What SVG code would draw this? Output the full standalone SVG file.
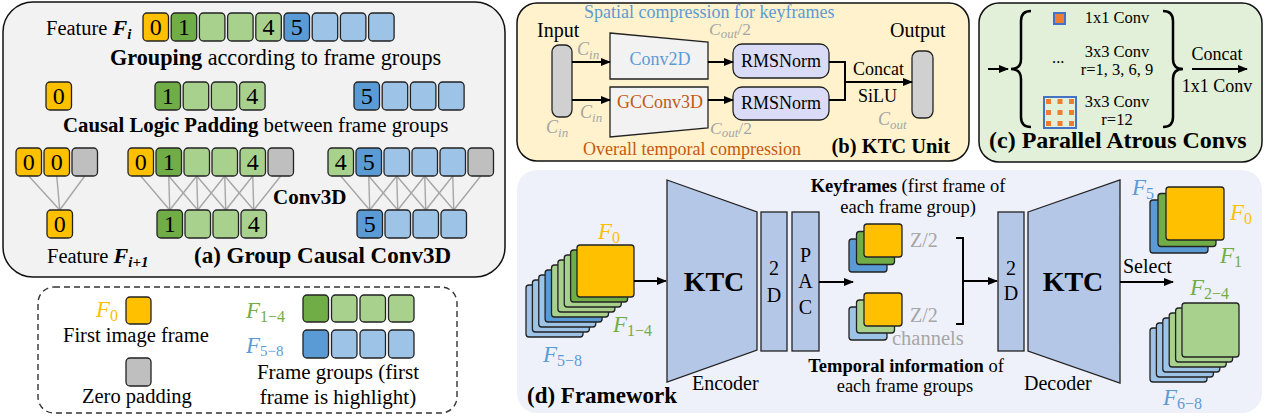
<svg xmlns="http://www.w3.org/2000/svg" width="1265" height="419" viewBox="0 0 1265 419">
<defs>
<marker id="ah" markerWidth="10" markerHeight="8" refX="9" refY="4" orient="auto" markerUnits="userSpaceOnUse"><path d="M0,0 L10,4 L0,8 z" fill="#000"/></marker>
<style>
text{font-family:"Liberation Serif","Times New Roman",serif;fill:#000}
.s{font-size:20.5px}
.m{font-size:18px}
.k{font-size:18.5px}
.bd{font-weight:bold}
.it{font-style:italic}
.y{fill:#FFC000}.dg{fill:#70AD47}.lg{fill:#A9D18E}.db{fill:#5B9BD5}.lb{fill:#9DC3E6}.gy{fill:#BFBFBF}
.gt{fill:#A6A6A6}.bt{fill:#5B9BD5}.ot{fill:#C55A11}
rect.c,.fr{stroke:#222;stroke-width:1.3}
.ln{stroke:#A6A6A6;stroke-width:1.4}
.ar{stroke:#000;stroke-width:2;fill:none;marker-end:url(#ah)}
.dig{font-size:24px;text-anchor:middle}
.mid{text-anchor:middle}
.pan{stroke:#111;stroke-width:1.5}
</style>
</defs>
<rect width="1265" height="419" fill="#fff"/>

<!-- Panel (a) -->
<g id="panel-a">
<rect class="pan" x="3" y="2" width="502" height="275" rx="30" fill="#F2F2F2"/>
<g id="a-connectors">
<line class="ln" x1="28.75" y1="176" x2="59.75" y2="210"/><line class="ln" x1="56.75" y1="176" x2="59.75" y2="210"/><line class="ln" x1="84.75" y1="176" x2="59.75" y2="210"/>
<line class="ln" x1="140.75" y1="176" x2="169.75" y2="210"/><line class="ln" x1="168.75" y1="176" x2="169.75" y2="210"/><line class="ln" x1="196.75" y1="176" x2="169.75" y2="210"/>
<line class="ln" x1="168.75" y1="176" x2="197.75" y2="210"/><line class="ln" x1="196.75" y1="176" x2="197.75" y2="210"/><line class="ln" x1="224.75" y1="176" x2="197.75" y2="210"/>
<line class="ln" x1="196.75" y1="176" x2="225.75" y2="210"/><line class="ln" x1="224.75" y1="176" x2="225.75" y2="210"/><line class="ln" x1="252.75" y1="176" x2="225.75" y2="210"/>
<line class="ln" x1="224.75" y1="176" x2="253.75" y2="210"/><line class="ln" x1="252.75" y1="176" x2="253.75" y2="210"/><line class="ln" x1="280.75" y1="176" x2="253.75" y2="210"/>
<line class="ln" x1="340.75" y1="176" x2="369.75" y2="210"/><line class="ln" x1="368.75" y1="176" x2="369.75" y2="210"/><line class="ln" x1="396.75" y1="176" x2="369.75" y2="210"/>
<line class="ln" x1="368.75" y1="176" x2="397.75" y2="210"/><line class="ln" x1="396.75" y1="176" x2="397.75" y2="210"/><line class="ln" x1="424.75" y1="176" x2="397.75" y2="210"/>
<line class="ln" x1="396.75" y1="176" x2="425.75" y2="210"/><line class="ln" x1="424.75" y1="176" x2="425.75" y2="210"/><line class="ln" x1="452.75" y1="176" x2="425.75" y2="210"/>
<line class="ln" x1="424.75" y1="176" x2="453.75" y2="210"/><line class="ln" x1="452.75" y1="176" x2="453.75" y2="210"/><line class="ln" x1="480.75" y1="176" x2="453.75" y2="210"/>
</g>
<g id="a-row1">
<text class="s" x="46" y="35">Feature <tspan class="bd it" font-size="22">F</tspan><tspan class="bd it" font-size="15" dy="4">i</tspan></text>
<rect class="c y" x="143" y="13" width="25.5" height="28" rx="4"/><text class="dig" x="155.75" y="35">0</text>
<rect class="c dg" x="171.2" y="13" width="25.5" height="28" rx="4"/><text class="dig" x="183.95" y="35">1</text>
<rect class="c lg" x="199.4" y="13" width="25.5" height="28" rx="4"/>
<rect class="c lg" x="227.6" y="13" width="25.5" height="28" rx="4"/>
<rect class="c lg" x="255.8" y="13" width="25.5" height="28" rx="4"/><text class="dig" x="268.55" y="35">4</text>
<rect class="c db" x="284" y="13" width="25.5" height="28" rx="4"/><text class="dig" x="296.75" y="35">5</text>
<rect class="c lb" x="312.2" y="13" width="25.5" height="28" rx="4"/>
<rect class="c lb" x="340.4" y="13" width="25.5" height="28" rx="4"/>
<rect class="c lb" x="368.6" y="13" width="25.5" height="28" rx="4"/>
</g>
<text x="110" y="65" font-size="22.2"><tspan class="bd">Grouping</tspan> according to frame groups</text>
<g id="a-row2">
<rect class="c y" x="46" y="82" width="25.5" height="28" rx="4"/><text class="dig" x="58.75" y="104">0</text>
<rect class="c dg" x="155" y="82" width="25.5" height="28" rx="4"/><text class="dig" x="167.75" y="104">1</text>
<rect class="c lg" x="183.2" y="82" width="25.5" height="28" rx="4"/>
<rect class="c lg" x="211.4" y="82" width="25.5" height="28" rx="4"/>
<rect class="c lg" x="239.6" y="82" width="25.5" height="28" rx="4"/><text class="dig" x="252.35" y="104">4</text>
<rect class="c db" x="354" y="82" width="25.5" height="28" rx="4"/><text class="dig" x="366.75" y="104">5</text>
<rect class="c lb" x="382.2" y="82" width="25.5" height="28" rx="4"/>
<rect class="c lb" x="410.4" y="82" width="25.5" height="28" rx="4"/>
<rect class="c lb" x="438.6" y="82" width="25.5" height="28" rx="4"/>
</g>
<text x="63" y="132" font-size="20.8"><tspan class="bd">Causal Logic Padding</tspan> between frame groups</text>
<g id="a-row3">
<rect class="c y" x="16" y="148" width="25.5" height="28" rx="4"/><text class="dig" x="28.75" y="170">0</text>
<rect class="c y" x="44" y="148" width="25.5" height="28" rx="4"/><text class="dig" x="56.75" y="170">0</text>
<rect class="c gy" x="72" y="148" width="25.5" height="28" rx="4"/>
<rect class="c y" x="128" y="148" width="25.5" height="28" rx="4"/><text class="dig" x="140.75" y="170">0</text>
<rect class="c dg" x="156" y="148" width="25.5" height="28" rx="4"/><text class="dig" x="168.75" y="170">1</text>
<rect class="c lg" x="184" y="148" width="25.5" height="28" rx="4"/>
<rect class="c lg" x="212" y="148" width="25.5" height="28" rx="4"/>
<rect class="c lg" x="240" y="148" width="25.5" height="28" rx="4"/><text class="dig" x="252.75" y="170">4</text>
<rect class="c gy" x="268" y="148" width="25.5" height="28" rx="4"/>
<rect class="c lg" x="328" y="148" width="25.5" height="28" rx="4"/><text class="dig" x="340.75" y="170">4</text>
<rect class="c db" x="356" y="148" width="25.5" height="28" rx="4"/><text class="dig" x="368.75" y="170">5</text>
<rect class="c lb" x="384" y="148" width="25.5" height="28" rx="4"/>
<rect class="c lb" x="412" y="148" width="25.5" height="28" rx="4"/>
<rect class="c lb" x="440" y="148" width="25.5" height="28" rx="4"/>
<rect class="c gy" x="468" y="148" width="25.5" height="28" rx="4"/>
</g>
<g id="a-row4">
<rect class="c y" x="47" y="210" width="25.5" height="28" rx="4"/><text class="dig" x="59.75" y="232">0</text>
<rect class="c dg" x="157" y="210" width="25.5" height="28" rx="4"/><text class="dig" x="169.75" y="232">1</text>
<rect class="c lg" x="185" y="210" width="25.5" height="28" rx="4"/>
<rect class="c lg" x="213" y="210" width="25.5" height="28" rx="4"/>
<rect class="c lg" x="241" y="210" width="25.5" height="28" rx="4"/><text class="dig" x="253.75" y="232">4</text>
<rect class="c db" x="357" y="210" width="25.5" height="28" rx="4"/><text class="dig" x="369.75" y="232">5</text>
<rect class="c lb" x="385" y="210" width="25.5" height="28" rx="4"/>
<rect class="c lb" x="413" y="210" width="25.5" height="28" rx="4"/>
<rect class="c lb" x="441" y="210" width="25.5" height="28" rx="4"/>
</g>
<text class="bd" x="273" y="204" font-size="21">Conv3D</text>
<text class="s" x="47" y="263">Feature <tspan class="bd it" font-size="22">F</tspan><tspan class="bd it" font-size="15" dy="4">i+1</tspan></text>
<text class="bd" x="194" y="263" font-size="23">(a) Group Causal Conv3D</text>
</g>

<!-- Legend -->
<g id="legend">
<rect x="38" y="287" width="419" height="126" rx="16" fill="none" stroke="#333" stroke-width="1.4" stroke-dasharray="6 4"/>
<text class="it y" x="96" y="317" font-size="23">F<tspan font-style="normal" font-size="16" dy="4">0</tspan></text>
<rect class="c y" x="126" y="297" width="25" height="27" rx="4"/>
<text class="s" x="63" y="342" font-size="21">First image frame</text>
<rect class="c gy" x="126" y="358" width="25" height="28" rx="4"/>
<text class="s" x="82" y="403" font-size="21">Zero padding</text>
<text class="it dg" x="246" y="318" font-size="23">F<tspan font-style="normal" font-size="16" dy="4">1−4</tspan></text>
<rect class="c dg" x="303" y="295" width="25.5" height="27" rx="4"/>
<rect class="c lg" x="331.5" y="295" width="25.5" height="27" rx="4"/>
<rect class="c lg" x="360" y="295" width="25.5" height="27" rx="4"/>
<rect class="c lg" x="388.5" y="295" width="25.5" height="27" rx="4"/>
<text class="it bt" x="246" y="353" font-size="23">F<tspan font-style="normal" font-size="15" dy="3">5−8</tspan></text>
<rect class="c db" x="303" y="330" width="25.5" height="28" rx="4"/>
<rect class="c lb" x="331.5" y="330" width="25.5" height="28" rx="4"/>
<rect class="c lb" x="360" y="330" width="25.5" height="28" rx="4"/>
<rect class="c lb" x="388.5" y="330" width="25.5" height="28" rx="4"/>
<text class="mid" x="338" y="379" font-size="21">Frame groups (first</text>
<text class="mid" x="338" y="404" font-size="21">frame is highlight)</text>
</g>

<!-- Panel (b) -->
<g id="panel-b">
<rect class="pan" x="517" y="3" width="452" height="158" rx="20" fill="#FFF2CC"/>
<text class="m bt" x="584" y="17.5">Spatial compression for keyframes</text>
<g id="b-input"><text x="537" y="37" font-size="20">Input</text><rect class="c" x="552" y="45" width="20" height="72" rx="7" fill="#D0D0D0"/></g>
<g id="b-conv2d"><polygon class="fr" points="610,33 708,42 708,79 610,79" fill="#F2F2F2"/><text class="m bt mid" x="660" y="65">Conv2D</text></g>
<g id="b-gcconv3d"><polygon class="fr" points="610,87 708,87 708,128 610,137" fill="#F2F2F2"/><text class="m ot mid" x="660" y="108">GCConv3D</text></g>
<g id="b-rms1"><rect class="c" x="733" y="44" width="96" height="34" rx="9" fill="#DADCF7"/><text class="m mid" x="781" y="67">RMSNorm</text></g>
<g id="b-rms2"><rect class="c" x="733" y="87" width="96" height="33" rx="9" fill="#DADCF7"/><text class="m mid" x="781" y="109">RMSNorm</text></g>
<g id="b-output"><text x="890" y="37" font-size="20">Output</text><rect class="c" x="912" y="51" width="21" height="67" rx="7" fill="#D0D0D0"/></g>
<g id="b-connectors">
<line class="ar" x1="572" y1="62" x2="610" y2="62"/>
<line class="ar" x1="572" y1="100" x2="610" y2="100"/>
<line class="ar" x1="708" y1="62" x2="733" y2="62"/>
<line class="ar" x1="708" y1="100" x2="733" y2="100"/>
<polyline points="829,62 845,62 845,100 829,100" fill="none" stroke="#000" stroke-width="2"/>
<line class="ar" x1="845" y1="82" x2="912" y2="82"/>
</g>
<text class="gt it" x="577" y="55" font-size="18">C<tspan font-size="13" dy="4">in</tspan></text>
<text class="gt it" x="580" y="118" font-size="18">C<tspan font-size="13" dy="4">in</tspan></text>
<text class="gt it" x="546" y="133" font-size="18">C<tspan font-size="13" dy="4">in</tspan></text>
<text class="gt it" x="709" y="35" font-size="17.5">C<tspan font-size="13" dy="3">out</tspan><tspan font-style="normal" dy="-3">/2</tspan></text>
<text class="gt it" x="710" y="134" font-size="17.5">C<tspan font-size="13" dy="3">out</tspan><tspan font-style="normal" dy="-3">/2</tspan></text>
<text class="gt it" x="878" y="125" font-size="18">C<tspan font-size="13" dy="4">out</tspan></text>
<text class="m" x="853" y="75">Concat</text>
<text class="m" x="858" y="102">SiLU</text>
<text class="m ot" x="583" y="155">Overall temporal compression</text>
<text class="bd" x="950" y="153" font-size="20.5" text-anchor="end">(b) KTC Unit</text>
</g>

<!-- Panel (c) -->
<g id="panel-c">
<rect class="pan" x="979" y="3" width="283" height="159" rx="20" fill="#E2F0D9"/>
<line class="ar" x1="988" y1="69" x2="1008" y2="69"/>
<path d="M1031,11 Q1021,11 1021,21 L1021,59 Q1021,69 1011,69 Q1021,69 1021,79 L1021,117 Q1021,127 1031,127" fill="none" stroke="#000" stroke-width="2.5"/>
<g id="c-1x1"><rect x="1054" y="13" width="11" height="11" fill="#ED7D31" stroke="#4472C4" stroke-width="2"/><text class="mid" x="1117" y="23" font-size="16.5">1x1 Conv</text></g>
<g id="c-3x3"><text x="1052" y="63" font-size="16.5">...</text><text class="mid" x="1117" y="57" font-size="16.5">3x3 Conv</text><text class="mid" x="1117" y="75" font-size="16.5">r=1, 3, 6, 9</text></g>
<g id="c-3x3r12">
<rect x="1044" y="97" width="32" height="31" fill="none" stroke="#4472C4" stroke-width="2"/>
<g fill="#ED7D31">
<rect x="1046" y="99" width="5" height="5"/><rect x="1057.5" y="99" width="5" height="5"/><rect x="1069" y="99" width="5" height="5"/>
<rect x="1046" y="110" width="5" height="5"/><rect x="1057.5" y="110" width="5" height="5"/><rect x="1069" y="110" width="5" height="5"/>
<rect x="1046" y="121" width="5" height="5"/><rect x="1057.5" y="121" width="5" height="5"/><rect x="1069" y="121" width="5" height="5"/>
</g>
<text class="mid" x="1117" y="107" font-size="16.5">3x3 Conv</text><text class="mid" x="1117" y="125" font-size="16.5">r=12</text>
</g>
<path d="M1163,11 Q1173,11 1173,21 L1173,59 Q1173,69 1183,69 Q1173,69 1173,79 L1173,117 Q1173,127 1163,127" fill="none" stroke="#000" stroke-width="2.5"/>
<line class="ar" x1="1192" y1="69" x2="1247" y2="69"/>
<text class="m mid" x="1217" y="60">Concat</text>
<text class="m mid" x="1217" y="92">1x1 Conv</text>
<text class="bd" x="989" y="148" font-size="24">(c) Parallel Atrous Convs</text>
</g>

<!-- Panel (d) -->
<g id="panel-d">
<rect x="517" y="170" width="745" height="243" rx="20" fill="#EEF1FA"/>
<g id="d-input-frames">
<rect class="fr lb" x="526" y="285" width="57" height="52" rx="3"/>
<rect class="fr lb" x="532.4" y="280" width="57" height="52" rx="3"/>
<rect class="fr lb" x="538.75" y="275" width="57" height="52" rx="3"/>
<rect class="fr db" x="545.1" y="270" width="57" height="52" rx="3"/>
<rect class="fr lg" x="551.5" y="265" width="57" height="52" rx="3"/>
<rect class="fr lg" x="557.9" y="260" width="57" height="52" rx="3"/>
<rect class="fr lg" x="564.25" y="255" width="57" height="52" rx="3"/>
<rect class="fr dg" x="570.6" y="250" width="57" height="52" rx="3"/>
<rect class="fr y" x="577" y="245" width="57" height="52" rx="3"/>
<text class="it y" x="598" y="239" font-size="23">F<tspan font-style="normal" font-size="16" dy="4">0</tspan></text>
<text class="it dg" x="613" y="332" font-size="23">F<tspan font-style="normal" font-size="16" dy="4">1−4</tspan></text>
<text class="it bt" x="543" y="362" font-size="23">F<tspan font-style="normal" font-size="16" dy="4">5−8</tspan></text>
</g>
<g id="d-encoder">
<polygon class="fr" points="667,180 757,212 757,350 667,382" fill="#B4C7E7"/>
<text class="bd mid" x="714" y="291" font-size="28">KTC</text>
<text x="692" y="390" font-size="20">Encoder</text>
</g>
<g id="d-enc-2d"><rect class="c" x="761" y="212" width="26" height="139" fill="#B4C7E7"/><text class="mid" x="774" y="275" font-size="20">2</text><text class="mid" x="774" y="302" font-size="20">D</text></g>
<g id="d-pac"><rect class="c" x="792" y="212" width="27" height="139" fill="#B4C7E7"/><text class="mid" x="805.5" y="262" font-size="20">P</text><text class="mid" x="805.5" y="288" font-size="20">A</text><text class="mid" x="805.5" y="314" font-size="20">C</text></g>
<g id="d-keyframes">
<text class="k mid" x="908" y="192"><tspan class="bd">Keyframes</tspan> (first frame of</text>
<text class="k mid" x="908" y="213">each frame group)</text>
<rect class="fr db" x="849" y="239" width="38" height="33" rx="3"/>
<rect class="fr dg" x="856.5" y="231.5" width="38" height="33" rx="3"/>
<rect class="fr y" x="864" y="224" width="38" height="33" rx="3"/>
<text class="gt" x="910" y="247" font-size="20">Z/2</text>
</g>
<g id="d-temporal">
<rect class="fr lb" x="849" y="307" width="38" height="33" rx="3"/>
<rect class="fr lg" x="856.5" y="300" width="38" height="33" rx="3"/>
<rect class="fr y" x="864" y="293" width="38" height="33" rx="3"/>
<text class="gt" x="910" y="322" font-size="20">Z/2</text>
<text class="gt" x="892" y="345" font-size="20.5">channels</text>
<text class="k mid" x="906" y="372"><tspan class="bd">Temporal information</tspan> of</text>
<text class="k mid" x="905" y="392">each frame groups</text>
</g>
<g id="d-dec-2d"><rect class="c" x="998" y="212" width="26" height="139" fill="#B4C7E7"/><text class="mid" x="1011" y="275" font-size="20">2</text><text class="mid" x="1011" y="300" font-size="20">D</text></g>
<g id="d-decoder">
<polygon class="fr" points="1028,212 1120,180 1120,383 1028,351" fill="#B4C7E7"/>
<text class="bd mid" x="1073" y="291" font-size="28">KTC</text>
<text x="1024" y="390" font-size="20">Decoder</text>
</g>
<g id="d-out-key">
<rect class="fr db" x="1150" y="200" width="58" height="53" rx="3"/>
<rect class="fr dg" x="1158" y="193.5" width="58" height="53" rx="3"/>
<rect class="fr y" x="1166" y="187" width="58" height="53" rx="3"/>
<text class="it bt" x="1132" y="195" font-size="23">F<tspan font-style="normal" font-size="16" dy="4">5</tspan></text>
<text class="it y" x="1230" y="220" font-size="23">F<tspan font-style="normal" font-size="16" dy="4">0</tspan></text>
<text class="it dg" x="1220" y="263" font-size="23">F<tspan font-style="normal" font-size="16" dy="4">1</tspan></text>
</g>
<g id="d-out-rest">
<rect class="fr lb" x="1150" y="328" width="57" height="54" rx="3"/>
<rect class="fr lb" x="1156.4" y="323" width="57" height="54" rx="3"/>
<rect class="fr lb" x="1162.8" y="318" width="57" height="54" rx="3"/>
<rect class="fr lg" x="1169.2" y="313" width="57" height="54" rx="3"/>
<rect class="fr lg" x="1175.6" y="308" width="57" height="54" rx="3"/>
<rect class="fr lg" x="1182" y="303" width="57" height="54" rx="3"/>
<text class="it dg" x="1190" y="295" font-size="23">F<tspan font-style="normal" font-size="16" dy="4">2−4</tspan></text>
<text class="it bt" x="1163" y="405" font-size="23">F<tspan font-style="normal" font-size="16" dy="4">6−8</tspan></text>
</g>
<g id="d-connectors">
<line class="ar" x1="634" y1="281" x2="666" y2="281"/>
<line class="ar" x1="819" y1="282" x2="853" y2="282"/>
<polyline points="956,238 963,238 963,324 956,324" fill="none" stroke="#000" stroke-width="2"/>
<line class="ar" x1="963" y1="281" x2="997" y2="281"/>
<line class="ar" x1="1120" y1="282" x2="1173" y2="282"/>
</g>
<text x="1123" y="273" font-size="20">Select</text>
<text class="bd" x="527" y="403" font-size="23">(d) Framework</text>
</g>
</svg>
